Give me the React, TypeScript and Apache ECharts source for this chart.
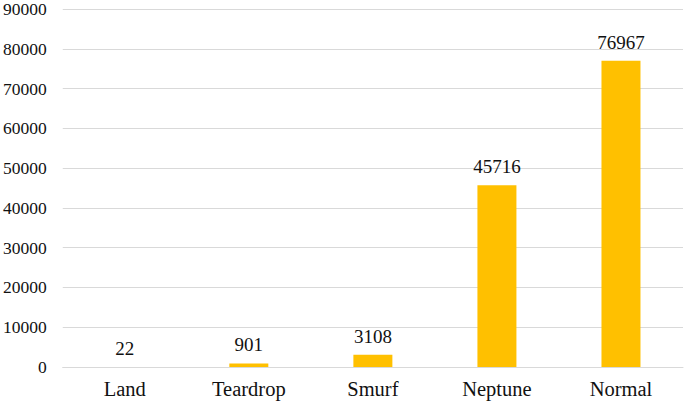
import React, { useEffect, useRef } from "react";
import * as echarts from "echarts";

const categories = ["Land", "Teardrop", "Smurf", "Neptune", "Normal"];
const values = [22, 901, 3108, 45716, 76967];

const FONT = "'Times New Roman', 'Liberation Serif', serif";

export default function App() {
  const ref = useRef<HTMLDivElement>(null);
  useEffect(() => {
    const chart = echarts.init(ref.current!, null, { renderer: "svg" });
    chart.setOption({
      animation: false,
      textStyle: { fontFamily: FONT },
      grid: { left: 59, right: 2, top: 7, bottom: 37 },
      xAxis: {
        type: "category",
        data: categories,
        axisTick: { show: false },
        axisLine: { lineStyle: { color: "#d9d9d9", width: 1 } },
        axisLabel: {
          color: "#111",
          fontFamily: FONT,
          fontSize: 20.5,
          margin: 11,
        },
      },
      yAxis: {
        type: "value",
        min: 0,
        max: 90000,
        interval: 10000,
        axisLine: { show: false },
        axisTick: { show: false },
        splitLine: { lineStyle: { color: "#d9d9d9", width: 1 } },
        axisLabel: {
          color: "#111",
          fontFamily: FONT,
          fontSize: 17.5,
          margin: 16,
          formatter: (v: number) => String(v),
        },
      },
      series: [
        {
          type: "bar",
          data: values,
          barWidth: 39,
          itemStyle: { color: "#FFC000" },
          label: {
            show: true,
            position: "top",
            distance: 9,
            color: "#111",
            fontFamily: FONT,
            fontSize: 19,
          },
        },
      ],
    });
    return () => chart.dispose();
  }, []);
  return (
    <div
      ref={ref}
      style={{ position: "fixed", left: 0, top: 0, width: 685, height: 404, background: "#fff" }}
    />
  );
}
